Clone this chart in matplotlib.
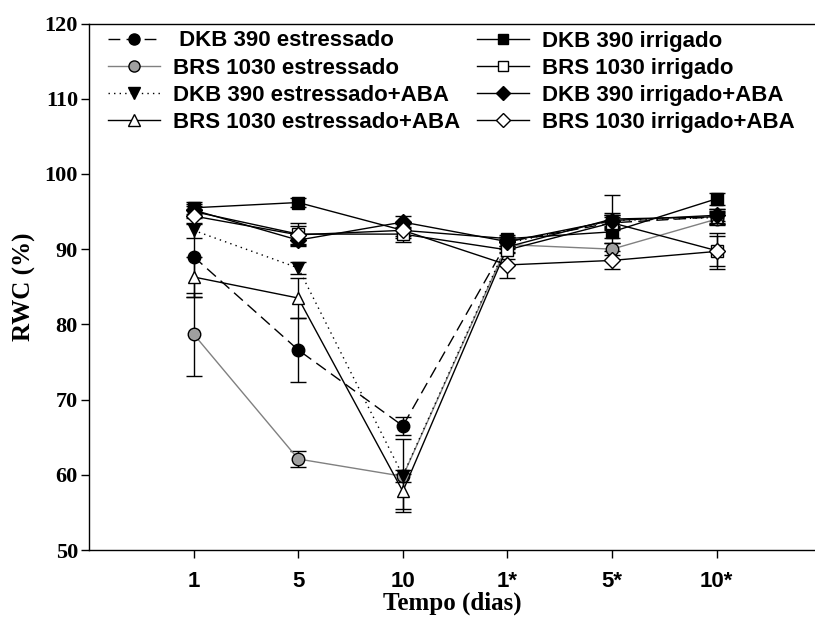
import numpy as np
import matplotlib
matplotlib.use("Agg")
import matplotlib.pyplot as plt
from matplotlib.lines import Line2D

# data
days   = ['1', '5', '10', '1*', '5*', '10*']
xpos   = np.arange(1, len(days) + 1)

dkb_est      = [89.0, 76.6, 66.5, 91.0, 93.5, 94.3]
dkb_est_err  = [5.4, 4.3, 1.2, 0.6, 1.0, 1.0]
brs_est      = [78.7, 62.1, 59.8, 90.6, 90.0, 94.0]
brs_est_err  = [5.5, 1.0, 0.8, 0.6, 0.8, 0.8]
dkb_aba      = [92.5, 87.5, 59.9, 90.8, 93.8, 94.2]
dkb_aba_err  = [1.0, 0.8, 4.9, 0.6, 0.8, 0.8]
brs_aba      = [86.3, 83.5, 57.8, 90.3, 94.0, 94.3]
brs_aba_err  = [2.6, 2.6, 2.3, 0.8, 3.2, 0.8]
dkb_irr      = [95.5, 96.2, 92.5, 91.4, 92.3, 96.7]
dkb_irr_err  = [0.8, 0.6, 0.8, 0.5, 0.8, 0.8]
brs_irr      = [95.0, 92.0, 92.0, 89.9, 93.5, 89.8]
brs_irr_err  = [0.8, 1.5, 1.0, 1.2, 0.8, 2.0]
dkb_irra     = [95.2, 91.2, 93.6, 91.0, 93.8, 94.5]
dkb_irra_err = [0.8, 0.8, 0.8, 0.6, 1.0, 0.8]
brs_irra     = [94.4, 91.9, 92.5, 87.9, 88.5, 89.7]
brs_irra_err = [1.0, 1.2, 1.0, 1.7, 1.2, 2.4]

W, H = 815, 631
fig = plt.figure(figsize=(W/100., H/100.), dpi=100)
ax  = fig.add_axes([89./W, 81./H, 726./W, 526.5/H])

common = dict(ecolor='k', elinewidth=1.0, capsize=5.5, capthick=1.0,
              markeredgecolor='k', markeredgewidth=1.0, lw=1.0)

series = [
    (dkb_est,  dkb_est_err,  ' DKB 390 estressado',     'o', 'k',       'k',       (0, (8.5, 4.5)), 9),
    (brs_est,  brs_est_err,  'BRS 1030 estressado',     'o', '#a0a0a0', '#808080', '-',             9),
    (dkb_aba,  dkb_aba_err,  'DKB 390 estressado+ABA',  'v', 'k',       'k',       (0, (1, 3)),     9),
    (brs_aba,  brs_aba_err,  'BRS 1030 estressado+ABA', '^', 'w',       'k',       '-',             9),
    (dkb_irr,  dkb_irr_err,  'DKB 390 irrigado',        's', 'k',       'k',       '-',             8),
    (brs_irr,  brs_irr_err,  'BRS 1030 irrigado',       's', 'w',       'k',       '-',             8),
    (dkb_irra, dkb_irra_err, 'DKB 390 irrigado+ABA',    'D', 'k',       'k',       '-',             8),
    (brs_irra, brs_irra_err, 'BRS 1030 irrigado+ABA',   'D', 'w',       'k',       '-',             8),
]

handles = []
for y, e, lab, m, fc, lc, ls, ms in series:
    ax.errorbar(xpos, y, yerr=e, fmt=m, linestyle=ls, color=lc,
                markerfacecolor=fc, markersize=ms, **common)
    handles.append(Line2D([], [], marker=m, linestyle=ls, color=lc, lw=1.0,
                          markerfacecolor=fc, markeredgecolor='k',
                          markersize=ms - 1, label=lab))

ax.set_xlim(0, 6.94)
ax.set_ylim(50, 120)
ax.set_xticks(xpos)
ax.set_xticklabels(days, family='Liberation Sans', weight='bold', fontsize=16)
ax.set_yticks(np.arange(50, 121, 10))
ax.set_yticklabels([str(v) for v in range(50, 121, 10)],
                   family='Liberation Serif', weight='bold', fontsize=16)
ax.tick_params(direction='out', length=6, width=1.0, top=False, right=False)
ax.tick_params(axis='x', pad=9)
ax.tick_params(axis='y', pad=2)
ax.spines['right'].set_visible(False)
for s in ['left', 'bottom', 'top']:
    ax.spines[s].set_linewidth(1.0)

ax.set_xlabel('Tempo (dias)', family='Liberation Serif', weight='bold', fontsize=18, labelpad=0)
ax.set_ylabel('RWC (%)', family='Liberation Serif', weight='bold', fontsize=18, labelpad=6)

leg = ax.legend(handles=handles, ncol=2, loc='upper left', frameon=False,
                bbox_to_anchor=(108./W, 1 - 30.5/H), bbox_transform=fig.transFigure,
                borderpad=0, borderaxespad=0, handlelength=2.34, handletextpad=0.59,
                columnspacing=0.75, labelspacing=0.28,
                prop={'family': 'Liberation Sans', 'weight': 'bold', 'size': 16})

fig.savefig('out.png', dpi=100)
